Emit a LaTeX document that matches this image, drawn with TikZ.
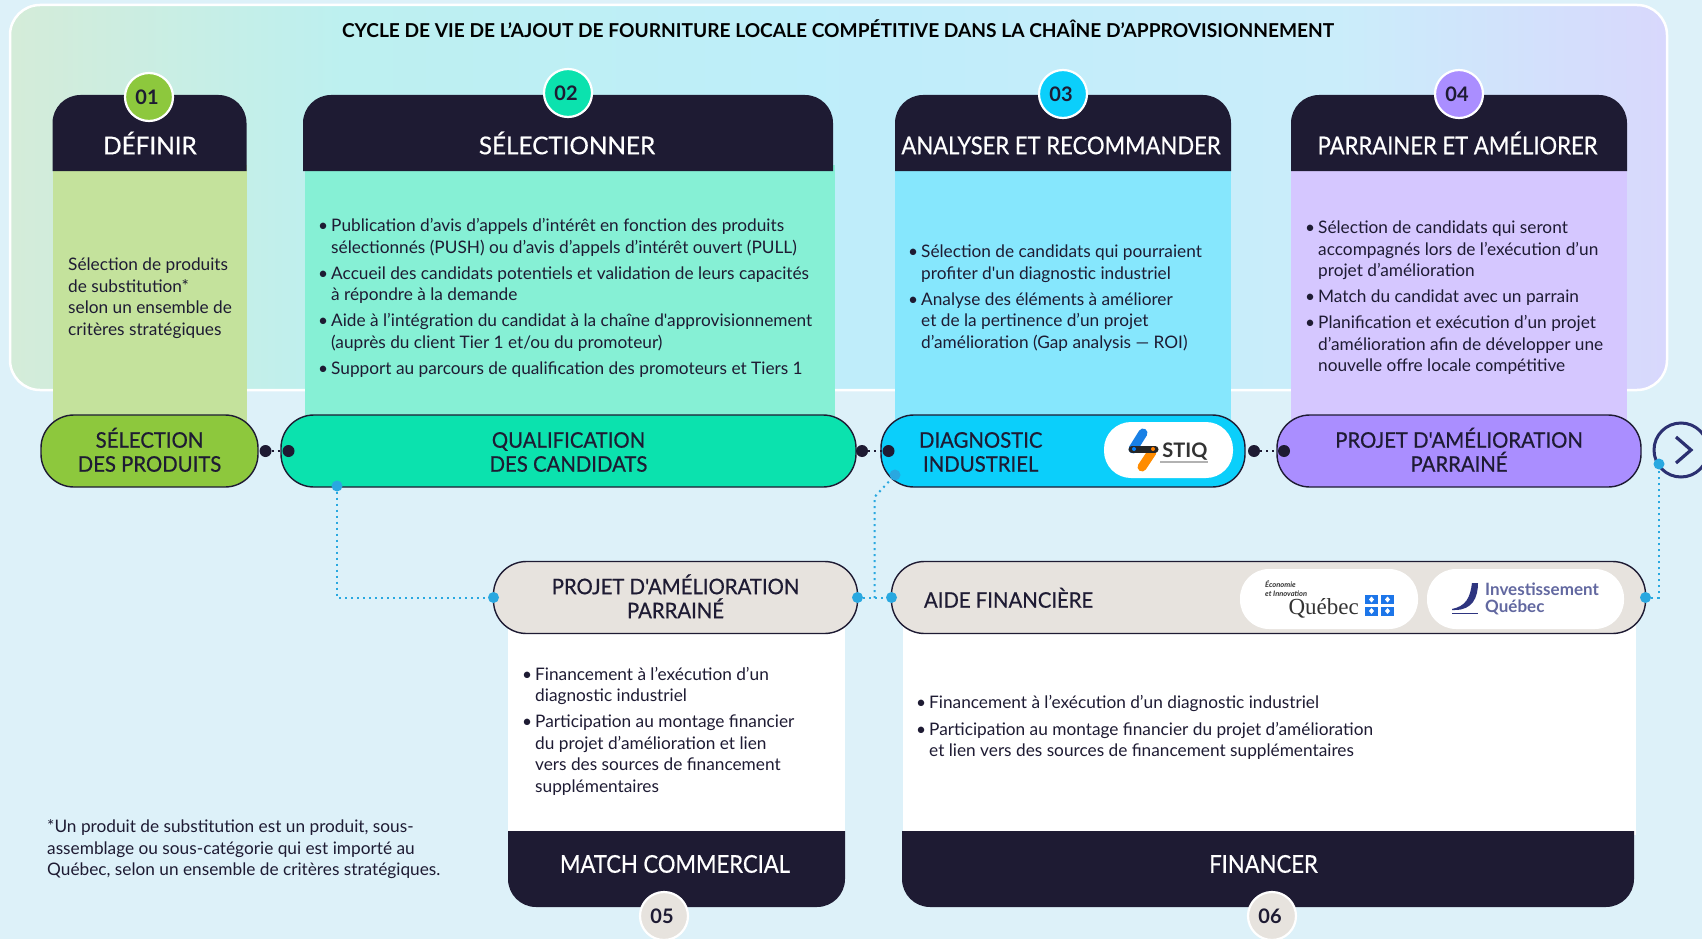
\documentclass[tikz,border=0pt]{standalone}
\usepackage{fontspec}
\setmainfont{Lato}[Ligatures=TeXOff]
\newfontfamily\logoserif{Liberation Serif}
\newfontfamily\headfont{Lato}[Ligatures=TeXOff,FakeStretch=0.9,FakeBold=0.5]
\newfontfamily\headwidefont{Lato}[Ligatures=TeXOff,FakeStretch=0.99,FakeBold=0.5]
\newfontfamily\pillfont{Lato}[Ligatures=TeXOff,FakeStretch=0.945,FakeBold=0.5]
\usepackage{tikz}
\usetikzlibrary{
    positioning,      % For placing the pills one after the other
    calc              % For the dots on the pill borders
}
\definecolor{navy_ink}{HTML}{1E1B33}
\definecolor{sky_bg}{HTML}{DDF1F9}
\definecolor{beige_fill}{HTML}{E7E3DE}
\definecolor{green_pill}{HTML}{8DC83D}
\definecolor{teal_pill}{HTML}{0BE2AE}
\definecolor{cyan_pill}{HTML}{0BCFFB}
\definecolor{violet_pill}{HTML}{AA8EFF}
\definecolor{green_body}{HTML}{C4E29C}
\definecolor{teal_body}{HTML}{86F0D5}
\definecolor{cyan_body}{HTML}{86E7FD}
\definecolor{violet_body}{HTML}{D5C7FF}
\definecolor{link_blue}{HTML}{29A8E0}
\definecolor{iq_navy}{HTML}{2E3580}
\pgfdeclarehorizontalshading{panel_shade}{100bp}{
    color(0bp)=(green_body!35!sky_bg!85!gray!10);
    color(25bp)=(green_body!35!sky_bg);
    color(35bp)=(teal_body!30!sky_bg!90!cyan_body);
    color(50bp)=(cyan_body!35!sky_bg);
    color(65bp)=(violet_body!15!cyan_body!25!sky_bg);
    color(75bp)=(violet_body!60!sky_bg);
    color(100bp)=(violet_body!60!sky_bg)
}
\newcommand{\puce}{\llap{\textbullet\hspace{3pt}}}
\newcommand{\capline}{\vphantom{É}}

\begin{document}
\begin{tikzpicture}[
    x=1pt, y=-1pt,
    % Global style settings
    pill_style/.style={
        draw=navy_ink, line width=1.4pt, rounded corners=33pt,
        minimum height=72pt, inner sep=0pt, outer sep=0pt,
        align=center, text=navy_ink,
        font=\pillfont\fontsize{21.5}{24}\selectfont,
        execute at end node={\rule[-2.5pt]{0pt}{2.5pt}}
    },
    num_style/.style={
        circle, draw=white, line width=2.2pt, minimum size=48pt, inner sep=0pt,
        text=navy_ink, font=\fontsize{20}{22}\bfseries\selectfont,
        execute at begin node={\hspace*{-4pt}}
    },
    head_style/.style={
        text=white, inner sep=0pt,
        font=\headfont\fontsize{24.5}{28}\selectfont
    },
    list_style/.style={
        anchor=west, align=left, inner sep=0pt, text=navy_ink,
        font=\fontsize{17.25}{21.5}\selectfont
    },
    logo_style/.style={
        fill=white, rounded corners=27pt, inner sep=0pt, minimum height=56pt
    },
    dark_dot/.style={circle, fill=navy_ink, minimum size=12pt, inner sep=0pt},
    blue_dot/.style={circle, fill=link_blue, minimum size=11pt, inner sep=0pt},
    dark_link/.style={navy_ink, line width=2pt, dash pattern=on 2pt off 4pt},
    blue_link/.style={link_blue, line width=2pt, dash pattern=on 2pt off 4pt}
]
    \useasboundingbox (0,0) rectangle (1702,939);
    \fill[sky_bg] (0,0) rectangle (1702,939);

    % 1. The large panel behind the four upper cards.
    \draw[white, line width=2.5pt, rounded corners=30pt, shading=panel_shade] (10,5) rectangle (1667,390);
    \node[text=black, inner sep=0pt, font=\fontsize{19.15}{22}\bfseries\selectfont] (panel_title) at (838,29) {CYCLE DE VIE DE L’AJOUT DE FOURNITURE LOCALE COMPÉTITIVE DANS LA CHAÎNE D’APPROVISIONNEMENT};

    % 2. Card bodies, then the dark headers with rounded tops.
    \foreach \xa/\xb/\bodycolor in {52.5/246.5/green_body, 305/835/teal_body, 895/1231/cyan_body, 1291/1627/violet_body}
        \fill[\bodycolor] (\xa,165) rectangle (\xb,430);
    \foreach \xa/\xb in {52.5/246.5, 303/833, 895/1231, 1291/1627}
        \fill[navy_ink] (\xa,171) [rounded corners=28pt] -- (\xa,95) -- (\xb,95) [sharp corners] -- (\xb,171) -- cycle;
    \fill[white] (508,620) rectangle (845,835);
    \fill[white] (903,620) rectangle (1636,835);
    \foreach \xa/\xb in {508/845, 902/1634}
        \fill[navy_ink] (\xa,831) [rounded corners=28pt] -- (\xa,907) -- (\xb,907) [sharp corners] -- (\xb,831) -- cycle;

    \node[head_style, font=\headwidefont\fontsize{24.5}{28}\selectfont] (head_definir) at (150,143) {DÉFINIR};
    \node[head_style, font=\headwidefont\fontsize{24.5}{28}\selectfont] (head_selection) at (567,143) {SÉLECTIONNER};
    \node[head_style] (head_analyse) at (1061,143) {\capline ANALYSER ET RECOMMANDER};
    \node[head_style] (head_parrain) at (1457.5,143) {PARRAINER ET AMÉLIORER};
    \node[head_style] (head_match) at (675,861.5) {\capline MATCH COMMERCIAL};
    \node[head_style] (head_financer) at (1263.5,861.5) {\capline FINANCER};

    \node[num_style, fill=green_pill] (num_one) at (149,97) {01};
    \node[num_style, fill=teal_pill] (num_two) at (568,93) {02};
    \node[num_style, fill=cyan_pill] (num_three) at (1063,94) {03};
    \node[num_style, fill=violet_pill] (num_four) at (1459,94) {04};
    \node[num_style, fill=beige_fill] (num_five) at (664,916) {05};
    \node[num_style, fill=beige_fill] (num_six) at (1272,916) {06};

    % 3. The texts of the cards.
    \node[list_style] (list_definir) at (68,298) {Sélection de produits\\de substitution*\\selon un ensemble de\\critères stratégiques};
    \node[list_style] (list_selection) at (331,298) {\puce Publication d’avis d’appels d’intérêt en fonction des produits\\sélectionnés (PUSH) ou d’avis d’appels d’intérêt ouvert (PULL)\\[4.5pt]
        \puce Accueil des candidats potentiels et validation de leurs capacités\\à répondre à la demande\\[4.5pt]
        \puce Aide à l’intégration du candidat à la chaîne d'approvisionnement\\(auprès du client Tier 1 et/ou du promoteur)\\[4.5pt]
        \puce Support au parcours de qualification des promoteurs et Tiers 1};
    \node[list_style] (list_analyse) at (921,298) {\puce Sélection de candidats qui pourraient\\profiter d'un diagnostic industriel\\[4.5pt]
        \puce Analyse des éléments à améliorer\\et de la pertinence d’un projet\\d’amélioration (Gap analysis — ROI)};
    \node[list_style] (list_parrain) at (1318,298) {\puce Sélection de candidats qui seront\\accompagnés lors de l’exécution d’un\\projet d’amélioration\\[4.5pt]
        \puce Match du candidat avec un parrain\\[4.5pt]
        \puce Planification et exécution d’un projet\\d’amélioration afin de développer une\\nouvelle offre locale compétitive};
    \node[list_style] (list_match) at (535,731) {\puce Financement à l’exécution d’un\\diagnostic industriel\\[4.5pt]
        \puce Participation au montage financier\\du projet d’amélioration et lien\\vers des sources de financement\\supplémentaires};
    \node[list_style] (list_financer) at (929,727.5) {\puce Financement à l’exécution d’un diagnostic industriel\\[5.5pt]
        \puce Participation au montage financier du projet d’amélioration\\et lien vers des sources de financement supplémentaires};
    \node[list_style] (footnote) at (47,849.5) {*Un produit de substitution est un produit, sous-\\assemblage ou sous-catégorie qui est importé au\\Québec, selon un ensemble de critères stratégiques.};

    % 4. The pills of the two rows.
    \node[pill_style, fill=green_pill, minimum width=217pt] (selection) at (149.5,451) {SÉLECTION\\DES PRODUITS};
    \node[pill_style, fill=teal_pill, minimum width=575pt, right=23pt of selection] (qualification) {\capline QUALIFICATION\\DES CANDIDATS};
    \node[pill_style, fill=cyan_pill, minimum width=364pt, right=25pt of qualification] (diagnostic) {};
    \node[pill_style, fill=violet_pill, minimum width=364pt, right=32pt of diagnostic] (projet) {PROJET D'AMÉLIORATION\\PARRAINÉ};
    \node[pill_style, fill=beige_fill, minimum width=364pt] (projet_match) at (675.5,597.5) {PROJET D'AMÉLIORATION\\PARRAINÉ};
    \node[pill_style, fill=beige_fill, minimum width=754pt, right=34pt of projet_match] (aide) {};
    \node[pill_style, draw=none, fill=none, anchor=west, minimum height=0pt] (diagnostic_text) at (919,451) {\hbox{\capline DIAGNOSTIC}\\\hbox{INDUSTRIEL}};
    \node[pill_style, draw=none, fill=none, anchor=west, minimum height=0pt] (aide_text) at (924,599) {AIDE FINANCIÈRE};
    \node[circle, draw=iq_navy!80!navy_ink, fill=sky_bg, line width=3pt, minimum size=54pt, inner sep=0pt] (next_step) at (1681,450) {};
    \draw[iq_navy!80!navy_ink, line width=3.2pt] ($(next_step.center)+(-5,-13)$) -- ($(next_step.center)+(10,0)$) -- ($(next_step.center)+(-5,13)$);

    % 5. The logos.
    \node[logo_style, minimum width=129pt] (logo_stiq) at (1168.5,450) {};
    \draw[blue!50!cyan!80!gray, line width=9pt, line cap=round] (1143,433) -- (1133,449);
    \draw[orange!90!yellow, line width=9pt, line cap=round] (1152,452) -- (1142,467);
    \draw[black!85, line width=7pt, line cap=round] (1132,449) -- (1155,449);
    \fill[blue!50!cyan] (1134,449) circle (2pt);
    \fill[orange] (1153,449) circle (2pt);
    \node[inner sep=0pt, text=black!80, font=\fontsize{20}{22}\bfseries\selectfont] (stiq_name) at (1185,452) {STIQ};
    \draw[black!30, line width=2pt] (1160,462) -- (1208,462);

    \node[logo_style, rounded corners=29pt, minimum width=178pt, minimum height=60pt] (logo_eiq) at (1329,599) {};
    \node[anchor=west, align=left, inner sep=0pt, text=black!80, font=\fontsize{7.5}{9}\itshape\bfseries\selectfont] (eiq_name) at (1265,588.5) {Économie\\et Innovation};
    \node[anchor=east, inner sep=0pt, text=black!80, font=\logoserif\fontsize{23}{24}\selectfont] (eiq_quebec) at (1359,608) {Québec};
    \foreach \xq/\yq in {1365/595, 1381/595, 1365/606.5, 1381/606.5} {
        \fill[link_blue!70!blue] (\xq,\yq) rectangle +(13,9);
        \fill[white] (\xq+6.5,\yq+1.5) -- (\xq+9,\yq+4.5) -- (\xq+6.5,\yq+7.5) -- (\xq+4,\yq+4.5) -- cycle;
    }

    \node[logo_style, rounded corners=29pt, minimum width=197pt, minimum height=60pt] (logo_iq) at (1525.5,599) {};
    \fill[iq_navy] (1452,609) .. controls (1466,606) and (1470,598) .. (1472,583) -- (1478,583) .. controls (1478,598) and (1472,610) .. (1455,610) -- (1452,610) -- cycle;
    \draw[iq_navy, line width=1.6pt] (1452,613.5) -- (1478,613.5);
    \node[anchor=west, align=left, inner sep=0pt, text=iq_navy!75!white, font=\fontsize{17}{17}\bfseries\selectfont] (iq_name) at (1485,598.5) {Investissement\\Québec};

    % 6. The dots and the dotted links.
    \node[dark_dot] (dot_a) at ($(selection.east)+(7.5,0)$) {};
    \node[dark_dot] (dot_b) at ($(qualification.west)+(7.5,0)$) {};
    \node[dark_dot] (dot_c) at ($(qualification.east)+(6,0)$) {};
    \node[dark_dot] (dot_d) at ($(diagnostic.west)+(7.5,0)$) {};
    \node[dark_dot] (dot_e) at ($(diagnostic.east)+(9,0)$) {};
    \node[dark_dot] (dot_f) at ($(projet.west)+(7,0)$) {};
    \draw[dark_link] (dot_a) -- (dot_b);
    \draw[dark_link] (dot_c) -- (dot_d);
    \draw[dark_link] (dot_e) -- (dot_f);

    \node[blue_dot] (blue_a) at ($(qualification.south west)+(56,-1)$) {};
    \node[blue_dot] (blue_b) at (projet_match.west) {};
    \node[blue_dot] (blue_c) at (projet_match.east) {};
    \node[blue_dot] (blue_d) at (aide.west) {};
    \node[blue_dot] (blue_e) at ($(diagnostic.south west)+(14,-12)$) {};
    \node[blue_dot] (blue_f) at (aide.east) {};
    \node[blue_dot] (blue_g) at (1659,464) {};
    \coordinate (turn_a) at (blue_a |- blue_b);
    \coordinate (turn_b) at (874.5,598);
    \coordinate (turn_c) at (874.5,497);
    \coordinate (turn_d) at (blue_g |- blue_f);
    \draw[blue_link] (blue_a) -- (turn_a) -- (blue_b);
    \draw[blue_link] (blue_c) -- (blue_d);
    \draw[blue_link] (turn_b) -- (turn_c) -- (blue_e);
    \draw[blue_link] (blue_f) -- (turn_d) -- (blue_g);
\end{tikzpicture}
\end{document}
